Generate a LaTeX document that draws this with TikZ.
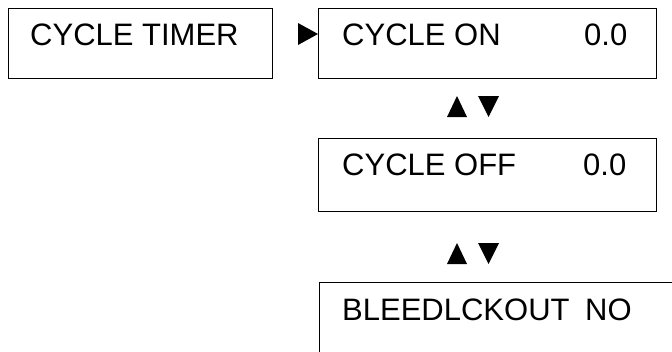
\documentclass[tikz,border=0pt]{standalone}
\usepackage{fontspec}
\setmainfont{Liberation Sans}
\begin{document}
\begin{tikzpicture}[x=1pt,y=-1pt,
  panel/.style={draw=black,line width=1.3pt,rectangle,inner sep=0pt,anchor=north west},
  lcd/.style={font=\fontsize{31}{31}\selectfont,inner sep=0pt,anchor=base west},
  tri/.style={fill=black,draw=none}]
\useasboundingbox (0,0) rectangle (672,351);
\clip (0,0) rectangle (672,351);
% display panels
\node[panel,minimum width=264pt,minimum height=70pt] (timer) at (8,8) {};
\node[panel,minimum width=338pt,minimum height=70pt] (on) at (318,8) {};
\node[panel,minimum width=338pt,minimum height=73pt] (off) at (318,138) {};
\node[panel,minimum width=400pt,minimum height=120pt] (bleed) at (319,282) {};
% panel texts
\node[lcd] (t1) at (30,45) {CYCLE TIMER};
\node[lcd] (t2) at (342,45) {CYCLE ON};
\node[lcd] (v2) at (584,45) {0.0};
\node[lcd] (t3) at (342,175) {CYCLE OFF};
\node[lcd] (v3) at (583,175) {0.0};
\node[lcd] (t4) at (342,320) {BLEEDLCKOUT};
\node[lcd] (v4) at (585,320) {NO};
% entry marker into the first sub-menu
\fill[tri] (298,23) -- (on.west |- 0,34) -- (298,45) -- cycle;
% scroll keys between panels
\foreach \y in {96,243}{
  \fill[tri] (447,\y+21) -- (457,\y) -- (467,\y+21) -- cycle;
  \fill[tri] (478,\y) -- (499,\y) -- (488.5,\y+21) -- cycle;
}
\end{tikzpicture}
\end{document}
